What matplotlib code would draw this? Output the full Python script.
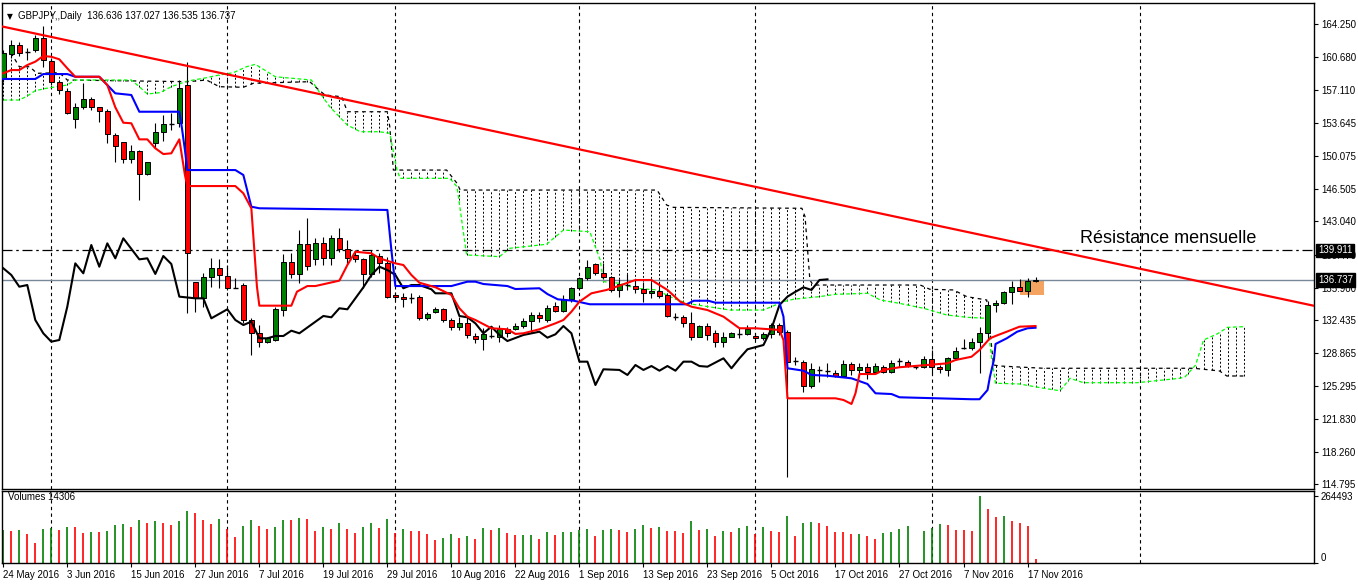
import matplotlib
matplotlib.use("Agg")
import matplotlib.pyplot as plt
import matplotlib.transforms as mtransforms
from matplotlib.patches import Rectangle
import numpy as np

plt.rcParams['font.family'] = ['Liberation Sans', 'DejaVu Sans']

# ---- daily candles GBPJPY (bar index 0 = 24 May 2016) ----
opens = [158.30, 160.99, 161.99, 161.21, 161.46, 162.71, 160.30, 157.98, 157.08, 154.00,
         155.36, 156.16, 155.30, 154.90, 152.32, 151.53, 149.70, 150.60, 148.09, 151.49,
         152.61, 153.47, 153.57, 157.69, 136.48, 134.76, 137.02, 137.99, 137.19, 135.94,
         136.19, 132.43, 131.00, 130.03, 130.28, 133.50, 138.63, 137.34, 140.57, 138.95,
         140.67, 139.06, 141.21, 140.03, 139.42, 138.95, 137.38, 139.31, 138.52, 135.11,
         134.87, 134.82, 134.87, 132.61, 133.26, 133.58, 132.43, 131.71, 132.07, 130.71,
         130.35, 130.71, 130.64, 131.43, 131.49, 131.78, 132.32, 132.96, 132.43, 133.93,
         133.43, 134.65, 135.84, 136.91, 138.45, 137.52, 137.02, 135.65, 136.19, 136.08,
         135.79, 135.30, 135.55, 135.11, 132.80, 132.72, 132.07, 130.64, 131.78, 130.99,
         130.10, 130.64, 130.92, 130.89, 130.75, 130.46, 130.89, 131.89, 131.10, 128.02,
         127.95, 125.37, 126.98, 126.98, 126.70, 126.44, 127.67, 127.05, 127.34, 126.87,
         127.41, 126.87, 127.95, 127.95, 127.34, 127.34, 128.20, 127.34, 127.06, 128.31,
         129.38, 129.38, 130.03, 131.00, 134.01, 134.26, 135.41, 135.94, 135.58, 136.636]
highs = [161.46, 162.53, 162.35, 161.67, 163.07, 164.03, 160.59, 158.23, 157.37, 155.76,
         157.94, 156.40, 155.36, 155.11, 152.53, 151.60, 151.24, 150.70, 149.45, 153.61,
         154.47, 154.68, 158.23, 160.20, 136.55, 137.48, 139.10, 138.99, 138.34, 136.94,
         136.41, 132.64, 131.93, 130.63, 133.86, 139.52, 139.60, 142.10, 143.39, 141.25,
         141.39, 141.57, 142.29, 141.03, 139.95, 139.06, 139.95, 139.60, 139.23, 135.47,
         135.30, 135.36, 135.11, 133.32, 133.86, 133.69, 132.61, 132.78, 132.78, 131.07,
         131.53, 131.71, 131.89, 131.71, 132.07, 132.61, 133.32, 133.32, 134.04, 134.39,
         135.11, 136.01, 137.08, 138.88, 138.59, 138.59, 137.16, 136.80, 137.38, 136.73,
         136.55, 136.55, 136.55, 135.30, 133.15, 132.96, 133.32, 131.89, 132.07, 131.35,
         131.17, 131.17, 131.53, 131.89, 131.00, 131.17, 132.14, 132.07, 131.35, 128.48,
         128.13, 127.77, 127.48, 127.84, 127.05, 128.13, 127.95, 127.77, 127.77, 127.77,
         127.59, 128.13, 128.38, 128.13, 127.59, 128.56, 129.20, 127.59, 128.48, 129.49,
         130.35, 130.46, 131.64, 134.50, 134.58, 135.58, 136.62, 136.80, 136.91, 137.027]
lows = [158.01, 160.59, 160.81, 160.38, 161.27, 159.66, 157.69, 156.73, 154.58, 153.07,
        155.11, 155.01, 153.75, 151.46, 149.45, 149.27, 149.27, 145.33, 148.02, 150.92,
        151.70, 152.85, 153.21, 133.15, 133.32, 133.86, 136.01, 135.87, 135.65, 135.87,
        132.11, 128.67, 129.56, 129.92, 130.20, 132.86, 136.91, 136.37, 137.80, 138.34,
        138.34, 138.34, 139.77, 138.34, 138.70, 135.84, 137.08, 137.45, 134.76, 134.58,
        133.86, 134.22, 132.43, 132.43, 133.15, 132.25, 131.35, 131.35, 130.46, 129.92,
        129.20, 130.46, 130.10, 130.64, 131.35, 131.53, 131.00, 132.25, 132.25, 133.32,
        133.32, 134.39, 135.65, 136.73, 137.27, 136.80, 135.47, 134.93, 135.65, 135.30,
        134.39, 134.76, 134.76, 132.72, 132.43, 131.64, 130.28, 130.57, 130.28, 129.56,
        129.56, 130.57, 130.46, 130.82, 130.28, 130.28, 130.46, 130.82, 115.58, 127.59,
        124.72, 125.09, 125.80, 126.33, 126.33, 126.33, 126.52, 126.63, 126.05, 126.77,
        126.73, 126.70, 127.41, 127.34, 127.13, 127.23, 126.77, 126.77, 126.44, 128.13,
        129.28, 129.20, 126.70, 130.28, 133.32, 134.15, 134.15, 135.58, 134.93, 136.535]
closes = [161.16, 161.99, 161.10, 161.19, 162.71, 160.38, 157.98, 157.16, 154.65, 155.36,
          156.16, 155.30, 154.90, 152.42, 151.17, 149.70, 150.60, 148.09, 149.38, 152.61,
          153.47, 153.50, 157.34, 139.60, 134.76, 137.02, 137.99, 137.27, 135.84, 135.90,
          132.43, 131.00, 130.03, 130.46, 133.58, 138.63, 137.34, 140.57, 138.23, 140.67,
          139.06, 141.21, 140.03, 139.06, 138.95, 137.38, 139.42, 138.52, 134.93, 134.87,
          134.65, 134.84, 132.61, 133.04, 133.58, 132.43, 131.71, 132.07, 130.82, 130.35,
          130.92, 130.75, 131.43, 131.00, 131.78, 132.32, 132.96, 132.61, 133.69, 133.43,
          134.65, 135.84, 136.91, 138.16, 137.52, 137.02, 135.65, 136.27, 136.21, 135.79,
          135.30, 135.55, 135.04, 132.86, 132.78, 132.07, 130.64, 131.78, 130.82, 130.10,
          130.64, 131.00, 130.94, 131.43, 130.46, 130.89, 131.89, 131.17, 127.88, 128.04,
          125.37, 127.13, 127.00, 126.96, 126.44, 127.67, 127.05, 127.34, 126.87, 127.48,
          126.87, 127.84, 127.97, 127.52, 127.36, 128.23, 127.34, 127.13, 128.31, 129.10,
          129.40, 130.03, 131.00, 134.01, 134.26, 135.41, 135.94, 135.58, 136.64, 136.737]

volumes = [131000, 127000, 131000, 115000, 79000, 135000, 139000, 131000, 143000, 143000,
           119000, 123000, 123000, 127000, 151000, 155000, 143000, 171000, 159000, 167000,
           159000, 151000, 167000, 206000, 198000, 171000, 155000, 175000, 135000, 103000,
           147000, 171000, 147000, 135000, 143000, 171000, 171000, 178000, 175000, 127000,
           143000, 135000, 159000, 135000, 119000, 143000, 159000, 139000, 175000, 119000,
           135000, 127000, 127000, 115000, 91000, 99000, 115000, 99000, 107000, 95000,
           139000, 131000, 139000, 119000, 111000, 111000, 111000, 95000, 123000, 111000,
           123000, 123000, 131000, 135000, 107000, 131000, 135000, 131000, 123000, 135000,
           151000, 139000, 143000, 127000, 127000, 119000, 167000, 131000, 135000, 107000,
           127000, 123000, 139000, 147000, 115000, 143000, 127000, 123000, 186000, 107000,
           159000, 163000, 159000, 147000, 123000, 123000, 115000, 115000, 107000, 95000,
           119000, 123000, 135000, 147000, 1500, 127000, 139000, 155000, 151000, 131000,
           131000, 127000, 264493, 214000, 182000, 186000, 167000, 159000, 147000, 14306]
volume_up = ("GRGRRGGRGRRGRGGGRGRGRRGGRRRGRRGGRRGGRGRRGRGRRGGRGRGRRRRGGRGRGRGRR"
             "GGRGRGGGGRGGRRGGRGRRRGRGRGRGGRGRRGRGGRRRRRGRRGGGGRGGGRRRRGRRGRRRR")

# ---- Ichimoku lines (bar index, price) ----
tenkan_x = [0, 1, 2, 3, 4, 5, 6, 7, 8, 9, 12, 13, 14, 15, 16, 17, 18, 19, 20, 21, 22, 22.7, 23,
            29, 30, 31, 31.7, 32, 36, 36.7, 38, 39, 42, 43, 44, 46, 47, 49, 50, 51, 52, 54, 56,
            57, 58, 59, 61, 63, 64, 65, 67, 69, 70, 71, 72, 73.5, 75.4, 77, 79, 81, 83, 84.6,
            86, 88, 90, 92, 94, 97, 97.5, 98, 104, 105, 106, 106.5, 107, 109, 110, 112, 118,
            119, 121, 122, 123.3, 124, 125.4, 127, 129]
tenkan_y = [158.95, 159.30, 159.30, 159.84, 160.20, 160.81, 160.73, 160.46, 159.49, 158.58,
            158.58, 157.69, 155.30, 153.64, 153.58, 151.85, 151.85, 150.89, 150.27, 150.35,
            151.85, 148.02, 146.83, 146.83, 146.05, 144.44, 136.01, 133.97, 133.97, 135.47,
            136.08, 136.08, 136.66, 138.34, 139.77, 139.60, 139.06, 138.52, 138.34, 137.27,
            136.44, 135.95, 135.12, 133.69, 132.79, 132.43, 131.54, 131.43, 130.93, 131.00,
            131.43, 132.07, 132.43, 133.32, 134.40, 135.30, 135.66, 136.12, 136.73, 136.73,
            135.66, 134.40, 133.86, 133.50, 132.79, 131.54, 131.54, 131.36, 130.28, 124.01,
            124.01, 123.83, 123.40, 124.55, 126.62, 126.62, 127.06, 127.35, 127.77, 128.13,
            128.48, 129.20, 130.46, 130.71, 131.17, 131.71, 131.78]
kijun_x = [0, 4, 5, 8, 9, 12, 13, 14, 16, 17, 22, 22.3, 22.7, 23, 29, 30, 31, 32, 48, 48.5,
           49, 56, 58, 59, 60, 63, 64, 67, 68, 69.3, 71.3, 73.3, 85.4, 86.3, 88.1, 89, 97,
           97.5, 98, 100, 101, 103, 106, 108, 109, 111, 112, 121, 122, 123, 123.3, 123.8, 124,
           125.4, 126.7, 128, 129]
kijun_y = [158.34, 158.34, 158.87, 158.87, 158.58, 158.58, 157.69, 156.80, 156.62, 154.82,
           154.82, 153.21, 150.71, 148.55, 148.55, 148.02, 144.61, 144.44, 144.26, 139.95,
           136.08, 136.08, 136.55, 136.55, 136.30, 136.08, 135.76, 135.84, 135.22, 134.65,
           134.50, 134.12, 134.12, 134.50, 134.50, 134.29, 134.29, 132.79, 127.24, 126.98,
           126.52, 126.44, 126.16, 125.55, 124.55, 124.47, 124.12, 123.91, 123.91, 124.90,
           126.33, 128.13, 129.85, 130.46, 131.17, 131.54, 131.60]
chikou_x = [0, 1, 2, 3, 4, 5, 6, 7, 8, 9, 10, 11, 12, 13, 14, 15, 17, 18, 19, 20, 21, 22, 24,
            25, 26, 28, 29, 30, 31, 32, 33, 34, 35, 36, 37, 40, 41, 42, 43, 45, 46, 47, 48, 49,
            50, 51, 52, 53.5, 54, 56, 57, 58, 59, 60, 61, 62, 63, 65, 67, 68, 69, 70, 71, 72,
            73, 74, 75, 77, 78, 79, 80, 81, 82, 83, 84, 85, 86, 87, 88, 90, 91, 92, 93, 95, 96,
            97, 98, 99, 100, 101, 102, 103]
chikou_y = [137.99, 137.27, 136.01, 136.19, 132.43, 131.00, 130.10, 130.28, 133.86, 138.52,
            137.45, 140.49, 138.16, 140.67, 139.06, 141.21, 138.95, 139.06, 137.38, 139.31,
            138.45, 134.94, 134.76, 134.76, 132.61, 133.58, 132.43, 131.89, 132.25, 130.46,
            130.46, 130.71, 130.71, 131.28, 131.00, 132.86, 132.72, 133.69, 133.58, 135.94,
            137.27, 138.16, 137.80, 137.27, 135.84, 136.19, 136.19, 135.73, 135.30, 135.30,
            132.86, 132.72, 132.07, 131.00, 131.71, 130.82, 130.17, 130.82, 131.17, 130.53,
            130.89, 131.78, 131.00, 127.95, 127.95, 125.44, 127.13, 127.06, 126.52, 127.59,
            127.06, 127.48, 126.98, 127.48, 126.98, 127.95, 127.95, 127.48, 127.41, 128.31,
            127.24, 128.31, 129.28, 129.74, 131.50, 134.04, 134.94, 135.47, 135.94, 135.66,
            136.73, 136.80]
span_a_x = [0, 2, 3, 4, 5.4, 8, 9, 16, 17, 18, 19.6, 21, 23, 25, 27, 28.75, 30.4, 31.5, 34,
            38.5, 39.6, 40.8, 43, 44.6, 47, 48.3, 49.2, 49.6, 55.8, 56.7, 57.9, 62, 63.3, 67.9,
            70, 73.3, 74.6, 75, 77, 79, 81.7, 83.3, 85.4, 90.8, 95, 97.5, 98.75, 102, 104, 108,
            109.6, 112, 115, 117.9, 120.4, 122.9, 123.5, 124, 127, 130, 132, 132.5, 133.3, 135,
            141.7, 147, 147.7, 149, 150, 151.7, 153, 155]
span_a_y = [156.08, 156.08, 156.51, 157.08, 157.34, 157.69, 158.23, 158.23, 157.51, 156.73,
            156.87, 157.51, 158.12, 158.41, 158.77, 159.02, 159.66, 159.92, 158.58, 158.23,
            156.80, 155.36, 153.39, 152.67, 152.67, 152.50, 148.55, 147.66, 147.66, 146.76,
            139.42, 139.24, 140.14, 140.57, 142.10, 141.92, 138.88, 136.55, 136.38, 135.84,
            135.66, 134.94, 134.22, 133.50, 133.50, 134.40, 134.66, 134.94, 135.19, 135.30,
            134.58, 134.22, 133.69, 132.97, 132.72, 132.61, 128.48, 125.63, 125.55, 125.09,
            124.83, 125.26, 126.16, 125.69, 125.69, 126.16, 126.33, 127.59, 130.28, 130.93,
            131.64, 131.71]
span_b_x = [0, 1, 2, 3.3, 4.2, 7, 8, 23, 25.4, 27, 30, 31.25, 38.3, 39.2, 40.2, 42.3, 43, 48,
            48.3, 48.75, 55.4, 56.7, 57.1, 81.7, 82.9, 83.75, 99.8, 100.2, 100.8, 101.2, 114.6,
            115.8, 118.75, 120.4, 122.9, 123.75, 124.6, 130, 148.75, 150.8, 152, 152.9, 155]
span_b_y = [160.92, 161.10, 159.66, 159.66, 158.95, 159.02, 158.23, 158.05, 158.23, 157.51,
            157.45, 157.88, 158.05, 157.34, 156.62, 156.43, 154.82, 154.82, 153.21, 148.55,
            148.55, 147.13, 146.40, 146.40, 144.79, 144.54, 144.44, 143.53, 136.73, 136.19,
            136.19, 135.73, 135.66, 134.94, 134.58, 127.59, 127.48, 127.24, 127.24, 127.06,
            126.95, 126.41, 126.41]

# trend line through two points, levels, highlight zone
trend_x = [0, 159.8]
trend_y = [163.96, 134.69]
resistance_level = 139.911
bid_price = 136.737
zone_x = [127, 130]
zone_y = [135.12, 136.73]

price_ticks = [164.250, 160.680, 157.110, 153.645, 150.075, 146.505, 143.040, 139.470,
               135.900, 132.435, 128.865, 125.295, 121.830, 118.260, 114.795]
month_lines = [6, 28, 49, 72, 94, 116, 142]
date_pos = [0, 8, 16, 24, 32, 40, 48, 56, 64, 72, 80, 88, 96, 104, 112, 120, 128]
date_labels = ["24 May 2016", "3 Jun 2016", "15 Jun 2016", "27 Jun 2016", "7 Jul 2016",
               "19 Jul 2016", "29 Jul 2016", "10 Aug 2016", "22 Aug 2016", "1 Sep 2016",
               "13 Sep 2016", "23 Sep 2016", "5 Oct 2016", "17 Oct 2016", "27 Oct 2016",
               "7 Nov 2016", "17 Nov 2016"]

W, H = 1358, 584
fig = plt.figure(figsize=(W / 100, H / 100), dpi=100)
ax = fig.add_axes([2 / W, 1 - 489 / H, 1312 / W, 486 / H])
axv = fig.add_axes([2 / W, 1 - 563 / H, 1312 / W, 72 / H])

xlim = (-0.16, 163.8)
for a in (ax, axv):
    a.set_xlim(*xlim)
    for s in a.spines.values():
        s.set_linewidth(1.0)
        s.set_color('black')
    for m in month_lines:
        a.axvline(m, color='black', lw=0.8, ls=(0, (3, 3)), zorder=0.5)
ax.set_ylim(114.26, 166.51)

# cloud: dotted vertical hatch between the two spans
hx = np.arange(0, 156)
ha = np.interp(hx, span_a_x, span_a_y)
hb = np.interp(hx, span_b_x, span_b_y)
ax.vlines(hx, np.minimum(ha, hb), np.maximum(ha, hb), colors='black',
          linestyles=(0, (2, 2)), lw=0.7, zorder=1)
ax.plot(span_b_x, span_b_y, color='black', lw=0.9, ls=(0, (3, 3)), zorder=1.2)
ax.plot(span_a_x, span_a_y, color='#00ff00', lw=0.9, ls=(0, (3, 2)), zorder=1.3)

ax.add_patch(Rectangle((zone_x[0], zone_y[0]), zone_x[1] - zone_x[0], zone_y[1] - zone_y[0],
                       fc='#f4a460', ec='none', zorder=1.5))

# candles
for i, (o, h, l, c) in enumerate(zip(opens, highs, lows, closes)):
    ax.vlines(i, l, h, color='black', lw=0.8, zorder=3)
    if abs(c - o) < 0.06:
        ax.hlines(c, i - 0.32, i + 0.32, color='black', lw=1.0, zorder=4)
    else:
        col = '#008000' if c > o else '#ff0000'
        ax.add_patch(Rectangle((i - 0.28, min(o, c)), 0.56, abs(c - o),
                               fc=col, ec='black', lw=0.7, zorder=4))

ax.plot(chikou_x, chikou_y, color='black', lw=1.5, zorder=5)
ax.plot(kijun_x, kijun_y, color='#0000ff', lw=1.5, zorder=5)
ax.plot(tenkan_x, tenkan_y, color='#ff0000', lw=1.5, zorder=5)

ax.axhline(resistance_level, color='black', lw=0.9, ls=(0, (8, 3, 2, 3)), zorder=2)
ax.axhline(bid_price, color='#778899', lw=1.0, zorder=2)
ax.axline((trend_x[0], trend_y[0]), (trend_x[1], trend_y[1]), color='#ff0000', lw=1.6, zorder=6)

ax.text(134.5, 141.2, "Résistance mensuelle", fontsize=13, ha='left', va='center', zorder=7)
ax.text(0.5, 165.1, "▼", fontsize=5.5, ha='left', va='center', family=['DejaVu Sans'])
ax.text(1.8, 165.1, "GBPJPY,,Daily  136.636 137.027 136.535 136.737", fontsize=7,
        ha='left', va='center')

ax.yaxis.tick_right()
ax.set_yticks(price_ticks)
ax.set_yticklabels(["%.3f" % p for p in price_ticks])
ax.tick_params(axis='y', length=3, width=0.8, labelsize=7, pad=2)
ax.tick_params(axis='x', bottom=False, labelbottom=False)

trans = mtransforms.blended_transform_factory(ax.transAxes, ax.transData)
for lvl in (resistance_level, bid_price):
    ax.text(1.003, lvl, "%.3f" % lvl, transform=trans, fontsize=7, color='white',
            ha='left', va='center', zorder=10, clip_on=False,
            bbox=dict(fc='black', ec='black', pad=1.2))

# volume panel
for i, v in enumerate(volumes):
    col = '#008000' if volume_up[i] == 'G' else '#ff0000'
    axv.vlines(i, 0, v, color=col, lw=1.2)
axv.set_ylim(0, 285500)
axv.yaxis.tick_right()
axv.set_yticks([264493, 0])
axv.set_yticklabels(["264493", "0"])
axv.tick_params(axis='y', length=3, width=0.8, labelsize=7, pad=2)
axv.get_yticklabels()[1].set_va('bottom')
axv.text(2 / 1312 * 163.96 + 0.3, 262000, "Volumes 14306", fontsize=7, ha='left', va='center')
axv.set_xticks(date_pos)
axv.set_xticklabels(date_labels, ha='left')
axv.tick_params(axis='x', length=3, width=0.8, labelsize=7, pad=2)

fig.savefig("out.png", dpi=100)
